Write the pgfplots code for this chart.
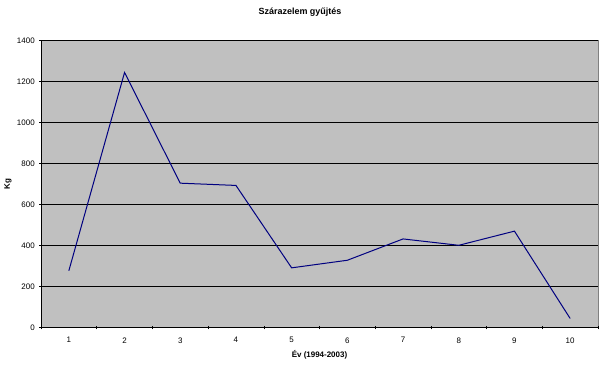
\documentclass[border=0pt]{standalone}
\usepackage{fontspec}
\setmainfont{Liberation Sans}
\usepackage{pgfplots}
\pgfplotsset{compat=1.18}
\definecolor{plotbg}{HTML}{C0C0C0}
\definecolor{navyline}{HTML}{000080}
\begin{document}
\begin{tikzpicture}
\useasboundingbox (-41bp,-37.3bp) rectangle (559bp,327.7bp);
\begin{axis}[
  at={(0,0)}, anchor=south west,
  scale only axis,
  width=557bp, height=287bp,
  xmin=0.5, xmax=10.5,
  ymin=0, ymax=1400,
  xtick={1,...,10},
  minor xtick={0.5,1.5,...,10.5},
  ytick={0,200,...,1400},
  major x tick style={draw=none},
  minor x tick style={black, line width=0.6bp},
  major y tick style={black, line width=0.6bp},
  tick align=outside,
  major tick length=3.5bp,
  minor tick length=3.5bp,
  ymajorgrids,
  grid style={black, line width=0.8bp},
  axis lines=left,
  axis line style={-, black, line width=0.8bp},
  axis background/.style={fill=plotbg, draw=gray, line width=0.8bp},
  /pgf/number format/assume math mode=true,
  /pgf/number format/.cd, 1000 sep={}, /pgfplots/.cd,
  tick label style={font=\fontsize{8}{9}\selectfont},
  xticklabel style={yshift=-4.5bp},
  yticklabel style={xshift=-1bp},
  title={Szárazelem gyűjtés},
  every axis title shift=0pt,
  title style={font=\fontsize{9}{10}\selectfont\bfseries, at={(axis description cs:0.5,1)}, anchor=center, xshift=-19.5bp, yshift=28.7bp},
  xlabel={Év (1994-2003)},
  xlabel style={font=\fontsize{8}{9}\selectfont\bfseries, at={(axis description cs:0.5,0)}, anchor=center, yshift=-27.5bp},
  ylabel={Kg},
  ylabel style={font=\fontsize{8}{9}\selectfont\bfseries, at={(axis description cs:-0.0592,0.5)}, anchor=center},
  clip=false,
]
\addplot[navyline, line width=1bp, mark=none] coordinates {
(1,278) (2,1245) (3,705) (4,694) (5,292) (6,329) (7,433) (8,402) (9,471) (10,45)
};
\end{axis}
\end{tikzpicture}
\end{document}
